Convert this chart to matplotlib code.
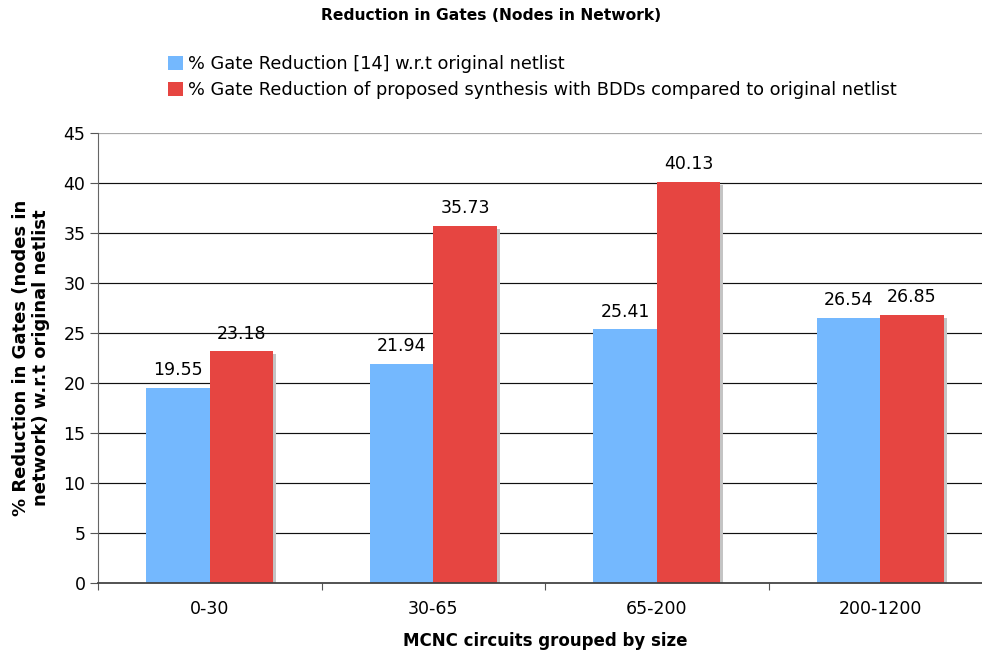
import numpy as np
import matplotlib
matplotlib.use("Agg")
import matplotlib.pyplot as plt
import matplotlib.patheffects as pe
from matplotlib.patches import Patch

categories = ["0-30", "30-65", "65-200", "200-1200"]
ref_reduction = [19.55, 21.94, 25.41, 26.54]
bdd_reduction = [23.18, 35.73, 40.13, 26.85]
series_names = ["% Gate Reduction [14] w.r.t original netlist",
                "% Gate Reduction of proposed synthesis with BDDs compared to original netlist"]
colors = ['#74b8fe', '#e64541']

plt.rcParams['font.family'] = ['DejaVu Sans']

fig = plt.figure(figsize=(9.82, 6.55), dpi=100)
ax = fig.add_axes([98 / 982, 72 / 655, 894 / 982, 450 / 655])

x = np.arange(len(categories))
w = 0.284
shadow = [pe.SimplePatchShadow(offset=(2.2, -2.2), shadow_rgbFace='#c4c4c4', alpha=1.0), pe.Normal()]

b1 = ax.bar(x - w / 2, ref_reduction, w, color=colors[0], zorder=3)
b2 = ax.bar(x + w / 2, bdd_reduction, w, color=colors[1], zorder=3)
for b in list(b1) + list(b2):
    b.set_path_effects(shadow)

# value labels above the bars
for bars, vals in [(b1, ref_reduction), (b2, bdd_reduction)]:
    for b, v in zip(bars, vals):
        ax.annotate("%.2f" % v, (b.get_x() + b.get_width() / 2, v),
                    xytext=(0, 6), textcoords='offset points',
                    ha='center', va='bottom', fontsize=12.5, zorder=5)

ax.set_xlim(-0.5, len(categories) - 0.5)
ax.set_ylim(0, 45)
ax.set_yticks(np.arange(0, 46, 5))
for yv in np.arange(5, 41, 5):
    ax.axhline(yv, color='#111111', lw=0.85, zorder=1)
ax.axhline(45, color='#a8a8a8', lw=0.9, zorder=1)

ax.set_xticks(np.arange(-0.5, len(categories), 1.0))
ax.set_xticklabels([])
ax.set_xticks(x, minor=True)
ax.set_xticklabels(categories, minor=True)
ax.tick_params(axis='x', which='major', length=5, color='#555555')
ax.tick_params(axis='x', which='minor', length=0, pad=12, labelsize=12.5)
ax.tick_params(axis='y', length=6, color='#555555', labelsize=12.5, pad=3)

for s in ['top', 'right']:
    ax.spines[s].set_visible(False)
ax.spines['left'].set_color('#666666')
ax.spines['bottom'].set_color('#444444')
ax.spines['bottom'].set_linewidth(1.3)
ax.spines['bottom'].set_zorder(4)

ax.set_xlabel("MCNC circuits grouped by size", fontsize=12, fontweight='bold', labelpad=10)
ax.set_ylabel("% Reduction in Gates (nodes in\nnetwork) w.r.t original netlist",
              fontsize=13, fontweight='bold', labelpad=10, linespacing=1.1)

fig.text(0.5, 0.988, "Reduction in Gates (Nodes in Network)", ha='center', va='top',
         fontsize=11.2, fontweight='bold')

handles = [Patch(facecolor=c) for c in colors]
fig.legend(handles=handles, labels=series_names, loc='upper left',
           bbox_to_anchor=(156 / 982, 1 - 43 / 655),
           frameon=False, fontsize=12.8, handlelength=0.8, handleheight=0.8,
           handletextpad=0.3, labelspacing=0.45, borderpad=0.2)

fig.savefig("out.png", dpi=100)
